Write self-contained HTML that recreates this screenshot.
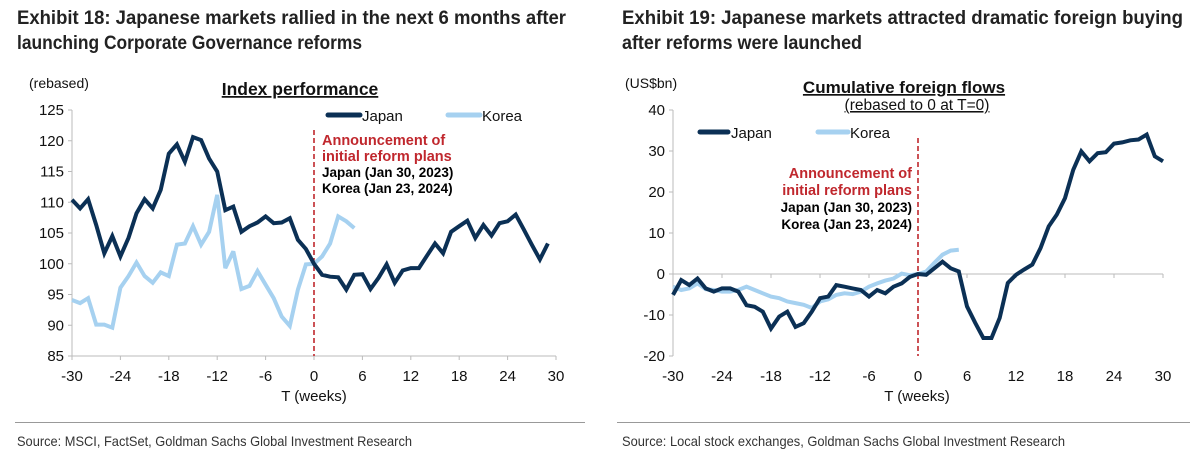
<!DOCTYPE html>
<html><head><meta charset="utf-8">
<style>
html,body{margin:0;padding:0;background:#fff;}
svg{display:block;}
.t{font-family:"Liberation Sans Narrow","Liberation Sans",sans-serif;font-weight:bold;font-size:19px;fill:#222;}
.lab{font-family:"Liberation Sans",sans-serif;font-size:14px;fill:#111;}
.leg{font-family:"Liberation Sans",sans-serif;font-size:15px;fill:#111;}
.src{font-family:"Liberation Sans Narrow","Liberation Sans",sans-serif;font-size:14px;fill:#333;}
.red{font-family:"Liberation Sans",sans-serif;font-weight:bold;font-size:14.5px;fill:#c0272d;}
.blk{font-family:"Liberation Sans",sans-serif;font-weight:bold;font-size:13.5px;fill:#000;}
</style></head>
<body>
<svg id="svg" width="1200" height="453" viewBox="0 0 1200 453" xmlns="http://www.w3.org/2000/svg">
<g>
<text class="t" x="17" y="24" textLength="549" lengthAdjust="spacingAndGlyphs">Exhibit 18: Japanese markets rallied in the next 6 months after</text>
<text class="t" x="17" y="49" textLength="345" lengthAdjust="spacingAndGlyphs">launching Corporate Governance reforms</text>
<text class="lab" x="29" y="88">(rebased)</text>
<text class="lab" x="300" y="95" text-anchor="middle" style="font-weight:bold;font-size:17.5px;text-decoration:underline">Index performance</text>
<line x1="328" y1="115" x2="360" y2="115" stroke="#0b3055" stroke-width="5" stroke-linecap="round"/>
<text class="leg" x="362" y="121">Japan</text>
<line x1="448" y1="115" x2="480" y2="115" stroke="#a6d1f0" stroke-width="5" stroke-linecap="round"/>
<text class="leg" x="482" y="121">Korea</text>
<text class="red" x="322" y="145">Announcement of</text>
<text class="red" x="322" y="161">initial reform plans</text>
<text class="blk" x="322" y="177">Japan (Jan 30, 2023)</text>
<text class="blk" x="322" y="193">Korea (Jan 23, 2024)</text>
<g id="leftChart"></g>
<text class="leg" x="314" y="401" text-anchor="middle">T (weeks)</text>
<line x1="15" y1="422.5" x2="585" y2="422.5" stroke="#999"/>
<text class="src" x="17" y="446" textLength="395" lengthAdjust="spacingAndGlyphs">Source: MSCI, FactSet, Goldman Sachs Global Investment Research</text>
</g>
<g>
<text class="t" x="622" y="24" textLength="561" lengthAdjust="spacingAndGlyphs">Exhibit 19: Japanese markets attracted dramatic foreign buying</text>
<text class="t" x="622" y="49" textLength="240" lengthAdjust="spacingAndGlyphs">after reforms were launched</text>
<text class="lab" x="625" y="88">(US$bn)</text>
<text class="lab" x="904" y="93" text-anchor="middle" style="font-weight:bold;font-size:17px;text-decoration:underline">Cumulative foreign flows</text>
<text class="lab" x="917" y="110" text-anchor="middle" style="font-size:15.5px;text-decoration:underline">(rebased to 0 at T=0)</text>
<line x1="700" y1="132" x2="728" y2="132" stroke="#0b3055" stroke-width="5" stroke-linecap="round"/>
<text class="leg" x="731" y="138">Japan</text>
<line x1="818" y1="132" x2="848" y2="132" stroke="#a6d1f0" stroke-width="5" stroke-linecap="round"/>
<text class="leg" x="850" y="138">Korea</text>
<text class="red" x="912" y="178" text-anchor="end">Announcement of</text>
<text class="red" x="912" y="195" text-anchor="end">initial reform plans</text>
<text class="blk" x="912" y="212" text-anchor="end">Japan (Jan 30, 2023)</text>
<text class="blk" x="912" y="229" text-anchor="end">Korea (Jan 23, 2024)</text>
<g id="rightChart"></g>
<text class="leg" x="917" y="401" text-anchor="middle">T (weeks)</text>
<line x1="617" y1="422.5" x2="1190" y2="422.5" stroke="#999"/>
<text class="src" x="622" y="446" textLength="443" lengthAdjust="spacingAndGlyphs">Source: Local stock exchanges, Goldman Sachs Global Investment Research</text>
</g>
</svg>
<script>
const xTicks = [-30,-24,-18,-12,-6,0,6,12,18,24,30];
const leftYTicks = [85,90,95,100,105,110,115,120,125];
const rightYTicks = [-20,-10,0,10,20,30,40];
const leftJapan = [110.4,109.0,110.5,106.3,101.7,104.5,101.2,104.2,108.2,110.5,109.0,112.0,117.9,119.4,116.6,120.6,120.1,117.1,115.0,108.7,109.3,105.2,106.1,106.7,107.7,106.6,106.7,107.4,103.9,102.4,100.0,
98.2,97.9,97.8,95.8,98.2,98.3,95.9,97.7,99.9,96.9,98.9,99.3,99.3,101.3,103.3,101.7,105.2,106.1,107.0,104.2,106.3,104.6,106.6,106.9,108.0,105.6,103.1,100.7,103.3];
const leftKorea = [94.1,93.6,94.4,90.1,90.1,89.6,96.1,98.0,100.2,98.0,96.9,98.6,98.0,103.1,103.3,106.1,103.1,105.2,111.2,99.3,102.0,95.9,96.4,98.8,96.6,94.4,91.4,89.9,95.8,99.9,100.0,
101.2,103.3,107.7,106.9,105.8];
const rightJapan = [-5.1,-1.5,-2.7,-1.1,-3.5,-4.3,-3.5,-3.5,-4.3,-7.6,-8.0,-9.2,-13.3,-10.4,-9.2,-12.9,-12.0,-9.2,-5.9,-5.5,-2.7,-3.1,-3.5,-3.9,-5.5,-3.9,-4.7,-3.1,-2.3,-0.7,0.0,
-0.2,1.4,3.0,1.4,0.6,-7.9,-11.9,-15.6,-15.6,-10.7,-2.2,-0.2,1.1,2.3,6.3,11.6,14.5,18.5,25.4,29.9,27.5,29.5,29.7,31.8,32.1,32.6,32.8,34.0,28.7,27.5];
const rightKorea = [-3.1,-3.9,-3.5,-2.3,-3.7,-3.9,-4.3,-4.3,-3.9,-3.1,-3.9,-4.7,-5.5,-5.9,-6.7,-7.1,-7.5,-8.3,-6.7,-6.2,-5.1,-4.7,-4.9,-4.3,-3.1,-2.3,-1.6,-1.1,0.1,-0.3,0.0,
0.6,2.7,4.7,5.7,5.9];

const NS="http://www.w3.org/2000/svg";
function mk(tag, attrs, parent){const e=document.createElementNS(NS,tag);for(const k in attrs)e.setAttribute(k,attrs[k]);parent.appendChild(e);return e;}

function drawChart(g, opt){
  const xs = v => opt.x0 + (v+30)/60*(opt.x1-opt.x0);
  const ys = v => opt.yb + (v-opt.ymin)/(opt.ymax-opt.ymin)*(opt.yt-opt.yb);
  const yAxis = mk('line',{x1:opt.x0,y1:opt.yt,x2:opt.x0,y2:opt.yb,stroke:'#bbb'},g);
  
  
  opt.yTicks.forEach(t=>{
    const y=ys(t);
    const tk=mk('line',{x1:opt.x0-4,y1:y,x2:opt.x0,y2:y,stroke:'#bbb'},g);
    
    
    const tl=mk('text',{x:opt.x0-8,y:y+5,'text-anchor':'end',class:'leg'},g);
    tl.textContent=t;
    
    
  });
  const ax = ys(opt.xAxisAt);
  const xAxis = mk('line',{x1:opt.x0,y1:ax,x2:opt.x1,y2:ax,stroke:'#bbb'},g);
  
  
  xTicks.forEach(t=>{
    const x=xs(t);
    const tk=mk('line',{x1:x,y1:ax,x2:x,y2:ax+4,stroke:'#bbb'},g);
    
    
    const tl=mk('text',{x:x,y:opt.yb+25,'text-anchor':'middle',class:'leg'},g);
    tl.textContent=t;
    
    
  });
  const vl=mk('line',{x1:xs(0),y1:opt.vTop,x2:xs(0),y2:opt.yb,stroke:'#c0272d','stroke-width':1.6,'stroke-dasharray':'5,3'},g);
  
  
  const series=[[opt.korea,'#a6d1f0','korea'],[opt.japan,'#0b3055','japan']];
  series.forEach(([d,c,n])=>{
    const pts=d.map((v,i)=>xs(i-30).toFixed(1)+','+ys(v).toFixed(1)).join(' ');
    const pl=mk('polyline',{points:pts,fill:'none',stroke:c,'stroke-width':4,'stroke-linejoin':'miter','stroke-miterlimit':3},g);
    
    
  });
}
drawChart(document.getElementById('leftChart'),{p:'left',x0:72,x1:556,yt:110,yb:356,ymin:85,ymax:125,yTicks:leftYTicks,xAxisAt:85,vTop:130,japan:leftJapan,korea:leftKorea});
drawChart(document.getElementById('rightChart'),{p:'right',x0:673,x1:1163,yt:110,yb:356,ymin:-20,ymax:40,yTicks:rightYTicks,xAxisAt:0,vTop:138,japan:rightJapan,korea:rightKorea});
</script>
</body></html>
